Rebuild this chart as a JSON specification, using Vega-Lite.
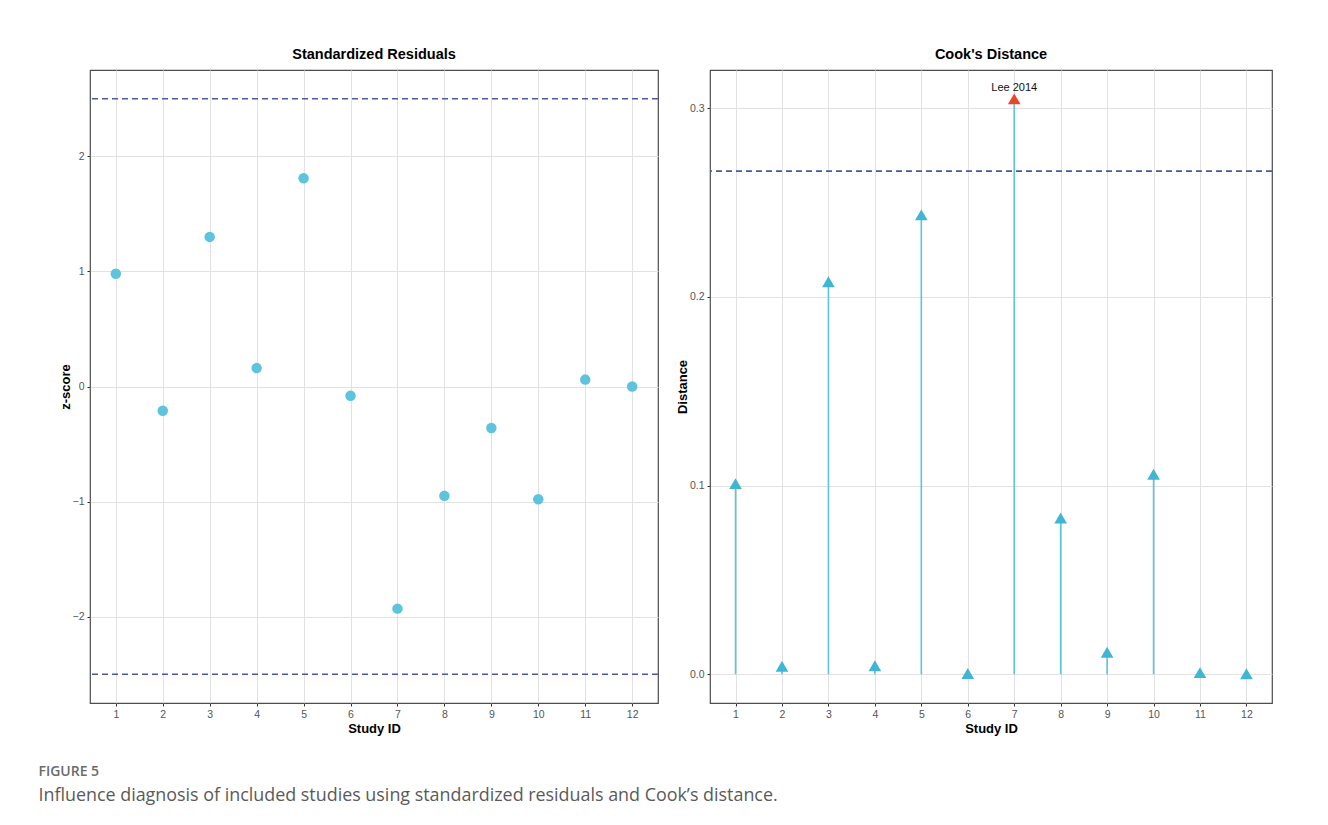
{
  "$schema": "https://vega.github.io/schema/vega-lite/v6.json",
  "background": "white",
  "padding": {"left": 38, "top": 45, "right": 57, "bottom": 20},
  "datasets": {
    "resid": [
      {"study": 1, "z": 0.98},
      {"study": 2, "z": -0.21},
      {"study": 3, "z": 1.30},
      {"study": 4, "z": 0.16},
      {"study": 5, "z": 1.81},
      {"study": 6, "z": -0.08},
      {"study": 7, "z": -1.93},
      {"study": 8, "z": -0.95},
      {"study": 9, "z": -0.36},
      {"study": 10, "z": -0.98},
      {"study": 11, "z": 0.06},
      {"study": 12, "z": 0.0}
    ],
    "zlimits": [{"z": 2.5}, {"z": -2.5}],
    "cook": [
      {"study": 1, "dist": 0.101, "flag": "normal", "label": ""},
      {"study": 2, "dist": 0.0042, "flag": "normal", "label": ""},
      {"study": 3, "dist": 0.208, "flag": "normal", "label": ""},
      {"study": 4, "dist": 0.0045, "flag": "normal", "label": ""},
      {"study": 5, "dist": 0.2435, "flag": "normal", "label": ""},
      {"study": 6, "dist": 0.0003, "flag": "normal", "label": ""},
      {"study": 7, "dist": 0.305, "flag": "influential", "label": "Lee 2014"},
      {"study": 8, "dist": 0.0828, "flag": "normal", "label": ""},
      {"study": 9, "dist": 0.0116, "flag": "normal", "label": ""},
      {"study": 10, "dist": 0.106, "flag": "normal", "label": ""},
      {"study": 11, "dist": 0.0008, "flag": "normal", "label": ""},
      {"study": 12, "dist": 0.0002, "flag": "normal", "label": ""}
    ],
    "cooklimit": [{"dist": 0.2667}]
  },
  "title": {
    "text": "FIGURE 5",
    "subtitle": "Influence diagnosis of included studies using standardized residuals and Cook’s distance.",
    "orient": "bottom",
    "anchor": "start",
    "offset": 29,
    "dx": -20,
    "font": "Open Sans",
    "fontSize": 14,
    "fontWeight": 600,
    "color": "#6b6b6b",
    "subtitleFont": "Open Sans",
    "subtitleFontSize": 17.9,
    "subtitleColor": "#5a5a5a",
    "subtitlePadding": 8
  },
  "spacing": 15,
  "hconcat": [
    {
      "width": 568,
      "height": 633,
      "title": {"text": "Standardized Residuals"},
      "layer": [
        {
          "data": {"name": "zlimits"},
          "mark": {"type": "rule", "color": "#4a5a9a", "strokeWidth": 1.6, "strokeDash": [6, 4]},
          "encoding": {
            "y": {"field": "z", "type": "quantitative", "scale": {"domain": [-2.75, 2.75], "nice": false, "zero": false}}
          }
        },
        {
          "data": {"name": "resid"},
          "mark": {"type": "point", "filled": true, "shape": "circle", "size": 110, "color": "#5ec3dc", "opacity": 1},
          "encoding": {
            "x": {
              "field": "study", "type": "quantitative",
              "scale": {"domain": [0.45, 12.55], "nice": false, "zero": false},
              "axis": {"values": [1, 2, 3, 4, 5, 6, 7, 8, 9, 10, 11, 12], "title": "Study ID", "format": "d"}
            },
            "y": {
              "field": "z", "type": "quantitative",
              "scale": {"domain": [-2.75, 2.75], "nice": false, "zero": false},
              "axis": {"values": [-2, -1, 0, 1, 2], "title": "z-score", "format": "d", "titlePadding": 0}
            }
          }
        }
      ]
    },
    {
      "width": 562,
      "height": 633,
      "title": {"text": "Cook's Distance"},
      "data": {"name": "cook"},
      "layer": [
        {
          "mark": {"type": "rule", "color": "#5ec3dc", "strokeWidth": 1.6},
          "encoding": {
            "x": {
              "field": "study", "type": "quantitative",
              "scale": {"domain": [0.45, 12.55], "nice": false, "zero": false},
              "axis": {"values": [1, 2, 3, 4, 5, 6, 7, 8, 9, 10, 11, 12], "title": "Study ID", "format": "d"}
            },
            "y": {
              "field": "dist", "type": "quantitative",
              "scale": {"domain": [-0.0153, 0.3203], "nice": false, "zero": false},
              "axis": {"values": [0, 0.1, 0.2, 0.3], "title": "Distance", "format": ".1f", "titlePadding": 0}
            },
            "y2": {"datum": 0}
          }
        },
        {
          "data": {"name": "cooklimit"},
          "mark": {"type": "rule", "color": "#4a5a9a", "strokeWidth": 1.6, "strokeDash": [6, 4]},
          "encoding": {
            "y": {"field": "dist", "type": "quantitative"}
          }
        },
        {
          "mark": {"type": "point", "filled": true, "shape": "triangle-up", "size": 160, "opacity": 1},
          "encoding": {
            "x": {"field": "study", "type": "quantitative"},
            "y": {"field": "dist", "type": "quantitative"},
            "color": {
              "field": "flag", "type": "nominal",
              "scale": {"domain": ["normal", "influential"], "range": ["#3fb6d3", "#e8472e"]},
              "legend": null
            }
          }
        },
        {
          "mark": {"type": "text", "baseline": "bottom", "dy": -6, "font": "Liberation Sans", "fontSize": 11, "color": "#111111"},
          "encoding": {
            "x": {"field": "study", "type": "quantitative"},
            "y": {"field": "dist", "type": "quantitative"},
            "text": {"field": "label"}
          }
        }
      ]
    }
  ],
  "config": {
    "font": "Liberation Sans",
    "view": {"stroke": "#4d4d4d", "strokeWidth": 1.2},
    "title": {"font": "Liberation Sans", "fontSize": 14.5, "fontWeight": "bold", "color": "#000000", "offset": 8, "anchor": "middle"},
    "axis": {
      "domain": false,
      "grid": true,
      "gridColor": "#e2e2e2",
      "gridWidth": 1,
      "ticks": true,
      "tickColor": "#333333",
      "tickSize": 3,
      "labelFont": "Liberation Sans",
      "labelFontSize": 10.5,
      "labelColor": "#555555",
      "labelPadding": 3,
      "titleFont": "Liberation Sans",
      "titleFontSize": 13,
      "titleFontWeight": "bold",
      "titleColor": "#000000",
      "titlePadding": 3
    }
  }
}
